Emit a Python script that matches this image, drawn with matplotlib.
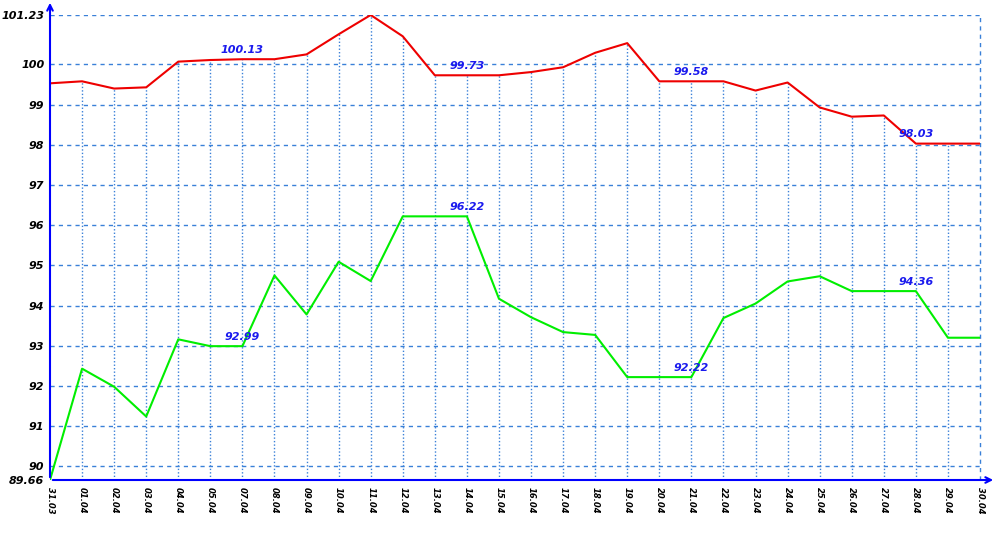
import matplotlib
matplotlib.use('Agg')
import matplotlib.pyplot as plt

# data
dates = ["31.03", "01.04", "02.04", "03.04", "04.04", "05.04", "07.04", "08.04",
         "09.04", "10.04", "11.04", "12.04", "13.04", "14.04", "15.04", "16.04",
         "17.04", "18.04", "19.04", "20.04", "21.04", "22.04", "23.04", "24.04",
         "25.04", "26.04", "27.04", "28.04", "29.04", "30.04"]
red_vals = [99.53, 99.58, 99.40, 99.43, 100.07, 100.11, 100.13, 100.13,
            100.25, 100.75, 101.23, 100.70, 99.73, 99.73, 99.73, 99.81,
            99.93, 100.29, 100.53, 99.58, 99.58, 99.58, 99.35, 99.55,
            98.93, 98.70, 98.73, 98.03, 98.03, 98.03]
green_vals = [89.66, 92.43, 91.98, 91.24, 93.16, 92.99, 92.99, 94.75,
              93.78, 95.09, 94.61, 96.22, 96.22, 96.22, 94.17, 93.71,
              93.34, 93.27, 92.22, 92.22, 92.22, 93.69, 94.05, 94.60,
              94.73, 94.36, 94.36, 94.36, 93.20, 93.20]
y_ticks = [89.66, 90, 91, 92, 93, 94, 95, 96, 97, 98, 99, 100, 101.23]
label_idx = [6, 13, 20, 27]

grid_c = '#3a80d8'
ymin, ymax = 89.66, 101.23
x = list(range(len(dates)))

fig = plt.figure(figsize=(10, 5.5), dpi=100)
ax = fig.add_axes([0.05, 70 / 550, 0.93, 465 / 550])
ax.set_xlim(0, len(dates) - 1)
ax.set_ylim(ymin, ymax)

# horizontal dashed grid
for v in y_ticks[1:]:
    ax.axhline(v, color=grid_c, lw=1, ls=(0, (3, 3)), zorder=1)
# vertical dotted drop lines from upper series
ax.vlines(x[1:-1], ymin, red_vals[1:-1], colors=grid_c, lw=1, linestyles=(0, (1, 1.5)), zorder=1)
ax.axvline(x[-1], color=grid_c, lw=1, ls=(0, (3, 3)), zorder=1, clip_on=False)

ax.plot(x, red_vals, color='#ee0000', lw=1.5, zorder=3)
ax.plot(x, green_vals, color='#00ee00', lw=1.5, zorder=3)

for i in label_idx:
    for vals in (red_vals, green_vals):
        ax.annotate(f"{vals[i]:.2f}", (x[i], vals[i]), xytext=(0, 3), textcoords='offset points',
                    ha='center', va='bottom', color='#1a1aee', fontsize=8,
                    fontweight='bold', fontstyle='italic', zorder=4)

for s in ax.spines.values():
    s.set_visible(False)
ax.set_yticks(y_ticks)
ax.set_yticklabels([f"{v:g}" for v in y_ticks], fontsize=8, fontweight='bold', fontstyle='italic')
ax.set_xticks(x)
ax.set_xticklabels(dates, rotation=270, fontsize=6, fontweight='bold', fontstyle='italic')
ax.tick_params(axis='y', length=0, pad=4)
ax.tick_params(axis='x', length=0, pad=5)

# axis lines with arrows
x0, y0 = 50 / 1000, 70 / 550
fig.add_artist(matplotlib.patches.FancyArrowPatch((x0, y0), (x0, 1.0), transform=fig.transFigure,
                                                  arrowstyle='->', mutation_scale=10, color='#0000ff', lw=1.5))
fig.add_artist(matplotlib.patches.FancyArrowPatch((x0, y0), (0.996, y0), transform=fig.transFigure,
                                                  arrowstyle='->', mutation_scale=10, color='#0000ff', lw=1.5))

fig.savefig('out.png', dpi=100)
